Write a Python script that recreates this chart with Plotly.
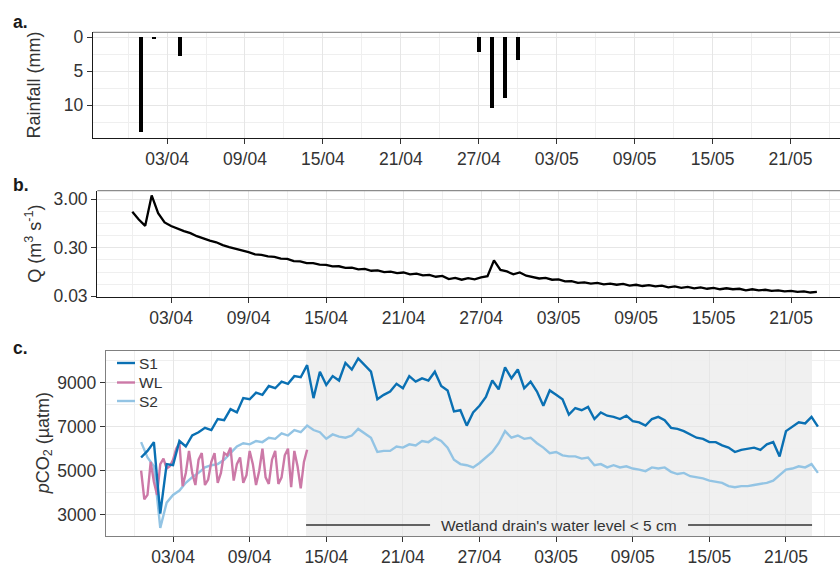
import pandas as pd
import plotly.graph_objects as go

W, H = 840, 564
FONT = "Liberation Sans, Arial, Helvetica, sans-serif"
TXT = "#333333"

# ---------------- data ----------------
rain_dates = ["2015-04-01", "2015-04-02", "2015-04-04", "2015-04-27",
              "2015-04-28", "2015-04-29", "2015-04-30"]
rain_mm = [14.0, 0.4, 2.9, 2.25, 10.5, 9.0, 3.4]

q_start = "2015-03-31 00:00"          # 12-hourly discharge (m3 s-1)
q_m3s = [
    1.65, 1.15, 0.85, 3.6, 1.55, 1.0, 0.84, 0.74, 0.66, 0.60,
    0.52, 0.47, 0.42, 0.39, 0.34, 0.31, 0.29, 0.27, 0.245, 0.22,
    0.215, 0.20, 0.195, 0.18, 0.178, 0.16, 0.158, 0.145, 0.145, 0.135,
    0.134, 0.124, 0.125, 0.116, 0.117, 0.108, 0.110, 0.101, 0.103, 0.095,
    0.097, 0.090, 0.093, 0.085, 0.088, 0.081, 0.083, 0.076, 0.079, 0.068,
    0.072, 0.066, 0.071, 0.067, 0.074, 0.078, 0.165, 0.105, 0.098, 0.085,
    0.093, 0.080, 0.076, 0.070, 0.072, 0.066, 0.067, 0.061, 0.062, 0.057,
    0.058, 0.055, 0.057, 0.053, 0.055, 0.052, 0.054, 0.050, 0.052, 0.049,
    0.051, 0.048, 0.050, 0.046, 0.048, 0.045, 0.047, 0.044, 0.046, 0.043,
    0.045, 0.042, 0.044, 0.042, 0.043, 0.040, 0.042, 0.040, 0.041, 0.039,
    0.040, 0.038, 0.039, 0.037, 0.038, 0.036, 0.037,
]

pco2_start = "2015-03-31 12:00"       # 12-hourly pCO2 (uatm)
s1_uatm = [
    5600, 5900, 6300, 3050, 5300, 5250, 6350, 6100, 6600, 6750,
    6950, 6850, 7350, 7300, 7800, 7650, 8300, 8250, 8550, 8450,
    8850, 8750, 9050, 8950, 9300, 9250, 9800, 8300, 9500, 8900,
    9300, 9100, 9900, 9600, 10100, 9800, 9500, 8250, 8450, 8600,
    8950, 8750, 9300, 9050, 9200, 9100, 9500, 8850, 8650, 7700,
    7750, 7050, 7650, 7950, 8350, 9100, 8700, 9700, 9200, 9600,
    8750, 9050, 8600, 7950, 8650, 8450, 8250, 7550, 7850, 7750,
    7900, 7350, 7650, 7500, 7450, 7350, 7500, 7250, 7200, 7050,
    7350, 7450, 7300, 6950, 6900, 6800, 6650, 6500, 6450, 6300,
    6300, 6150, 6050, 5850, 5950, 6000, 6050, 5950, 6200, 6300,
    5650, 6800, 7000, 7200, 7150, 7450, 7000,
]
s2_uatm = [
    6300, 5600, 5200, 2400, 3550, 3900, 4100, 4450, 4700, 4900,
    5150, 5250, 5300, 5500, 5800, 6100, 6250, 6200, 6350, 6300,
    6500, 6450, 6700, 6600, 6850, 6750, 7050, 6850, 6750, 6450,
    6650, 6550, 6500, 6600, 6900, 6700, 6500, 5850, 5900, 5900,
    6100, 6050, 6200, 6150, 6350, 6300, 6500, 6350, 6050, 5500,
    5300, 5250, 5150, 5350, 5600, 5850, 6250, 6800, 6500, 6600,
    6450, 6500, 6250, 6050, 5800, 5850, 5700, 5650, 5650, 5550,
    5600, 5250, 5300, 5150, 5250, 5150, 5200, 5100, 5050, 4980,
    5150, 5100, 5150, 4950, 4850, 4900, 4750, 4700, 4650, 4550,
    4500, 4450, 4300, 4250, 4300, 4300, 4350, 4400, 4450, 4550,
    4800, 5050, 5100, 5200, 5150, 5300, 4900,
]
wl_start = "2015-03-31 12:00"         # 6-hourly pCO2 (uatm)
wl_uatm = [
    5000, 3700, 3900, 5400, 4500, 3900, 5300, 5550, 5100, 5200,
    5500, 6000, 6250, 4300, 4900, 5900, 4900, 4350, 5500, 5800,
    4350, 4600, 5400, 5800, 4450, 4900, 5800, 5700, 6050, 4550,
    5300, 5600, 4450, 4800, 5900, 5300, 4350, 5000, 6000, 4700,
    4400, 5500, 5900, 4400, 4700, 5700, 6000, 4250, 5900, 5200,
    4200, 5400, 5950,
]

series_names = ["S1", "WL", "S2"]
series_colors = ["#0A70B3", "#CC79A7", "#93C4E4"]

tick_origin = "2015-04-03"
shade_start = "2015-04-13 10:00"
shade_end = "2015-05-23 01:00"
shade_label = "Wetland drain's water level < 5 cm"

# ---------------- derived time axes ----------------
q_time = pd.date_range(q_start, periods=len(q_m3s), freq="12h")
s_time = pd.date_range(pco2_start, periods=len(s1_uatm), freq="12h")
wl_time = pd.date_range(wl_start, periods=len(wl_uatm), freq="6h")

ref = pd.Timestamp(tick_origin)
DAY = pd.Timedelta(days=1)
DAY_MS = 86400000


def px_x(p):
    return p / W


def px_y(p):
    return 1 - p / H


# panel geometry (pixels) and x ranges (days from tick origin)
panels = {
    "a": dict(left=93, top=32.3, bottom=137.7, r=(-5.70, 51.81)),
    "b": dict(left=97.3, top=190.7, bottom=296.7, r=(-5.71, 51.79)),
    "c": dict(left=106, top=350.7, bottom=536.0, r=(-5.25, 52.23)),
}

tickfont = dict(family=FONT, size=17.5, color=TXT)
GRID = "#E6E6E6"
MINOR = "#EFEFEF"


def xaxis_cfg(p, anchor, linecolor, mirror=False):
    return dict(
        domain=[px_x(p["left"]), 1.0],
        range=[ref + p["r"][0] * DAY, ref + p["r"][1] * DAY],
        type="date", tick0=tick_origin, dtick=6 * DAY_MS, tickformat="%d/%m",
        ticks="outside", ticklen=5, tickwidth=1.2, tickcolor=TXT,
        showgrid=True, gridcolor=GRID, gridwidth=1,
        minor=dict(tick0=tick_origin, dtick=3 * DAY_MS, showgrid=True,
                   gridcolor=MINOR, gridwidth=1, ticks=""),
        showline=True, linecolor=linecolor, linewidth=1.4, mirror=mirror,
        zeroline=False, anchor=anchor, tickfont=tickfont, automargin=False,
    )


fig = go.Figure()

# panel a: rainfall
fig.add_trace(go.Bar(x=rain_dates, y=rain_mm, width=0.27 * DAY_MS,
                     marker=dict(color="black", line=dict(width=0)),
                     xaxis="x", yaxis="y", showlegend=False))
# panel b: discharge
fig.add_trace(go.Scatter(x=q_time, y=q_m3s, mode="lines",
                         line=dict(color="black", width=2.3),
                         xaxis="x2", yaxis="y2", showlegend=False))
# panel c: pCO2
for name, t, v in [("S2", s_time, s2_uatm), ("WL", wl_time, wl_uatm), ("S1", s_time, s1_uatm)]:
    fig.add_trace(go.Scatter(x=t, y=v, mode="lines", name=name,
                             line=dict(color=series_colors[series_names.index(name)], width=2.4),
                             xaxis="x3", yaxis="y3", showlegend=False))

pa, pb, pc = panels["a"], panels["b"], panels["c"]

q_major = [0.03, 0.3, 3.0]
q_minor = [m * 10 ** (k / 4) for m in (0.03, 0.3) for k in range(1, 4)] + [3.0 * 10 ** 0.25]

fig.update_layout(
    width=W, height=H, margin=dict(l=0, r=0, t=0, b=0),
    paper_bgcolor="white", plot_bgcolor="white",
    font=dict(family=FONT, color=TXT), showlegend=False, bargap=0,
    xaxis=xaxis_cfg(pa, "y", "#1a1a1a"),
    xaxis2=xaxis_cfg(pb, "y2", "#1a1a1a"),
    xaxis3=xaxis_cfg(pc, "y3", "#808080", mirror=True),
    yaxis=dict(domain=[px_y(pa["bottom"]), px_y(pa["top"])], range=[14.8, -0.7],
               tick0=0, dtick=5, ticks="outside", ticklen=5, tickwidth=1.2, tickcolor=TXT,
               showgrid=True, gridcolor=GRID,
               minor=dict(tick0=0, dtick=2.5, showgrid=True, gridcolor=MINOR, ticks=""),
               showline=True, linecolor="#1a1a1a", linewidth=1.4, zeroline=False,
               anchor="x", tickfont=tickfont, automargin=False),
    yaxis2=dict(domain=[px_y(pb["bottom"]), px_y(pb["top"])], type="log", range=[-1.53, 0.653],
                tickmode="array", tickvals=q_major, ticktext=["0.03", "0.30", "3.00"],
                ticks="outside", ticklen=5, tickwidth=1.2, tickcolor=TXT,
                showgrid=True, gridcolor=GRID,
                minor=dict(tickmode="array", tickvals=q_minor, showgrid=True, gridcolor=MINOR, ticks=""),
                showline=True, linecolor="#1a1a1a", linewidth=1.4, zeroline=False,
                anchor="x2", tickfont=tickfont, automargin=False),
    yaxis3=dict(domain=[px_y(pc["bottom"]), px_y(pc["top"])], range=[2032, 10455],
                tick0=3000, dtick=2000, tickformat="d", ticks="outside", ticklen=5, tickwidth=1.2,
                tickcolor=TXT, showgrid=True, gridcolor=GRID,
                minor=dict(tick0=2000, dtick=1000, showgrid=True, gridcolor=MINOR, ticks=""),
                showline=True, linecolor="#808080", linewidth=1.4, zeroline=False,
                anchor="x3", tickfont=tickfont, automargin=False),
)

shapes = []
# grey top borders for panels a and b
for xr, yr in [("x", "y"), ("x2", "y2")]:
    shapes.append(dict(type="line", xref=f"{xr} domain", yref=f"{yr} domain",
                       x0=0, x1=1, y0=1, y1=1, line=dict(color="#8c8c8c", width=1.3)))
# shaded period in panel c
shapes.append(dict(type="rect", xref="x3", yref="y3 domain", x0=shade_start, x1=shade_end,
                   y0=0, y1=1, fillcolor="#F0F0F0", line=dict(width=0), layer="below"))
# bracket line with a gap for the label
s0, s1_ = pd.Timestamp(shade_start), pd.Timestamp(shade_end)
mid = s0 + (s1_ - s0) / 2
px_per_day = (W - pc["left"]) / (pc["r"][1] - pc["r"][0])
half_gap = (129 / px_per_day) * DAY
line_y = (pc["bottom"] - 525) / (pc["bottom"] - pc["top"])
for a0, a1 in [(s0, mid - half_gap), (mid + half_gap, s1_)]:
    shapes.append(dict(type="line", xref="x3", yref="y3 domain", x0=a0, x1=a1,
                       y0=line_y, y1=line_y, line=dict(color="#333333", width=1.3)))

annotations = [
    dict(text=shade_label, xref="x3", yref="y3 domain", x=mid, y=line_y,
         showarrow=False, xanchor="center", yanchor="middle",
         font=dict(family=FONT, size=15.5, color=TXT)),
]

# manual legend (top-left of panel c)
leg_rows = [363, 382.5, 401]
for name, color, yy in zip(series_names, series_colors, leg_rows):
    shapes.append(dict(type="line", xref="paper", yref="paper", x0=px_x(117), x1=px_x(135),
                       y0=px_y(yy), y1=px_y(yy), line=dict(color=color, width=2.4)))
    annotations.append(dict(text=name, xref="paper", yref="paper", x=px_x(136.5), y=px_y(yy),
                            xanchor="left", yanchor="middle", showarrow=False,
                            font=dict(family=FONT, size=15.5, color=TXT)))

# panel letters
for lab, yy in [("a.", 22.5), ("b.", 185), ("c.", 348)]:
    annotations.append(dict(text=f"<b>{lab}</b>", xref="paper", yref="paper", x=px_x(11), y=px_y(yy),
                            xanchor="left", yanchor="middle", showarrow=False,
                            font=dict(family=FONT, size=17.5, color="#1a1a1a")))

# y-axis titles
for txt, xx, p in [("Rainfall (mm)", 33.5, pa),
                   ("Q (m<sup>3</sup> s<sup>-1</sup>)", 34, pb),
                   ("<i>p</i>CO<sub>2</sub> (µatm)", 44, pc)]:
    annotations.append(dict(text=txt, xref="paper", yref="paper", x=px_x(xx),
                            y=px_y((p["top"] + p["bottom"]) / 2), textangle=-90,
                            xanchor="center", yanchor="middle", showarrow=False,
                            font=dict(family=FONT, size=18, color=TXT)))

fig.update_layout(shapes=shapes, annotations=annotations)
fig.write_html("out.html", config={"displayModeBar": False},
               post_script="document.body.style.margin='0';document.body.style.overflow='hidden';")
